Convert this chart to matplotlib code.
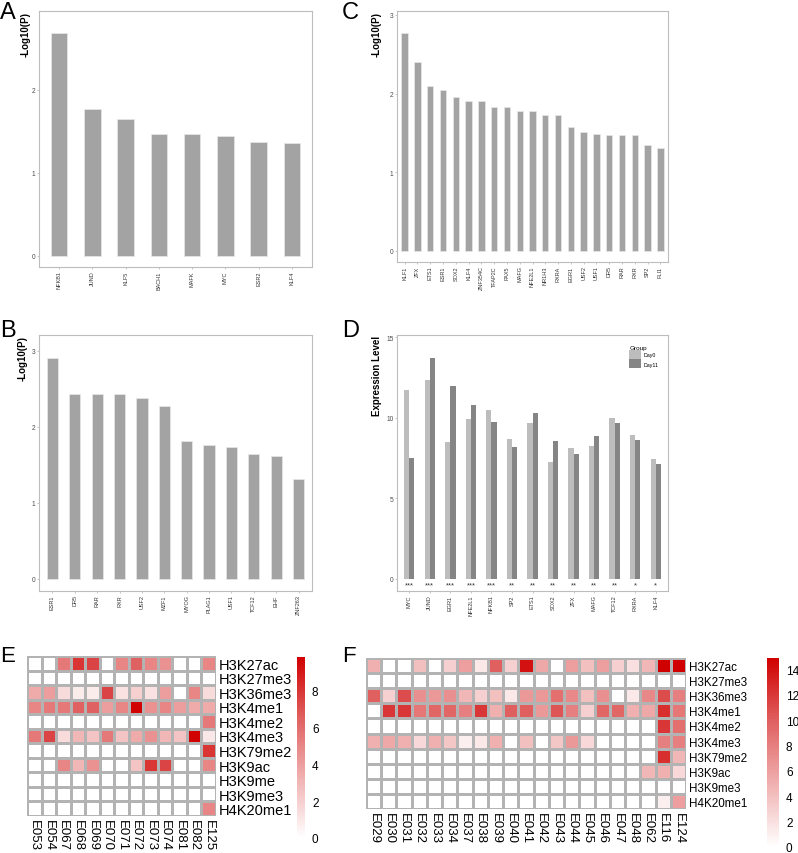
import numpy as np
import matplotlib
matplotlib.use("Agg")
import matplotlib.pyplot as plt
from matplotlib.colors import LinearSegmentedColormap

plt.rcParams["font.family"] = ["Liberation Sans", "DejaVu Sans"]

W, H = 798, 854

# --- data ---
a_tf = ["NFKB1", "JUND", "KLF5", "BACH1", "MAFK", "MYC", "ESR2", "KLF4"]
a_val = [2.69, 1.77, 1.65, 1.47, 1.47, 1.45, 1.37, 1.36]

b_tf = ["ESR1", "DR5", "RAR", "RXR", "USF2", "MZF1", "MYOG", "PLAG1", "USF1", "TCF12", "EHF", "ZNF263"]
b_val = [2.91, 2.44, 2.44, 2.44, 2.38, 2.27, 1.82, 1.76, 1.73, 1.64, 1.62, 1.32]

c_tf = ["KLF1", "ZFX", "ETS1", "ESR1", "SOX2", "KLF4", "ZNF354C", "TFAP2C", "PAX5", "MAFG",
        "NFE2L1", "NR1H3", "RXRA", "EGR1", "USF2", "USF1", "DR5", "RAR", "RXR", "SP2", "FLI1"]
c_val = [2.77, 2.40, 2.09, 2.04, 1.95, 1.91, 1.90, 1.83, 1.83, 1.78,
         1.78, 1.73, 1.73, 1.58, 1.51, 1.49, 1.47, 1.47, 1.47, 1.35, 1.31]

d_tf = ["MYC", "JUND", "EGR1", "NFE2L1", "NFKB1", "SP2", "ETS1", "SOX2", "ZFX", "MAFG", "TCF12", "RXRA", "KLF4"]
d_day0 = [11.76, 12.36, 8.49, 9.94, 10.48, 8.71, 9.69, 7.25, 8.14, 8.28, 10.02, 8.94, 7.43]
d_day11 = [7.52, 13.75, 11.99, 10.81, 9.77, 8.20, 10.31, 8.59, 7.74, 8.86, 9.67, 8.61, 7.14]
d_sig = ["***", "***", "***", "***", "***", "**", "**", "**", "**", "**", "**", "*", "*"]

e_cols = ["E053", "E054", "E067", "E068", "E069", "E070", "E071", "E072", "E073", "E074", "E081", "E082", "E125"]
e_rows = ["H3K27ac", "H3K27me3", "H3K36me3", "H3K4me1", "H3K4me2", "H3K4me3",
          "H3K79me2", "H3K9ac", "H3K9me", "H3K9me3", "H4K20me1"]
e_vals = [
    [0, 0, 5.5, 8, 7.5, 0, 5, 6.5, 5, 4.5, 0, 0, 5],
    [0, 0, 0, 0, 0, 0, 0, 0, 0, 0, 0, 0, 0],
    [3.5, 4, 1.5, 0.8, 0.8, 7.5, 1.2, 2, 1.2, 4, 0, 5, 1.5],
    [5, 5.5, 5.5, 6.5, 6.5, 4, 5, 9.7, 4.5, 5, 4, 3.5, 3.5],
    [0, 0, 0, 0, 0, 0, 0, 0, 0, 0, 0, 0, 5.5],
    [5.5, 7.5, 1.5, 3, 2.5, 5.5, 2.5, 3.5, 4.5, 3, 2.5, 9.7, 1],
    [0, 0, 0, 0, 0, 0, 0, 0, 0, 0, 0, 0, 8],
    [0, 0, 5, 3, 4.5, 0, 0, 2.5, 8, 7.5, 0, 0, 5],
    [0, 0, 0, 0, 0, 0, 0, 0, 0, 0, 0, 0, 0],
    [0, 0, 0, 0, 0, 0, 0, 0, 0, 0, 0, 0, 0],
    [0, 0, 0, 0, 0, 0, 0, 0, 0, 0, 0, 0, 5],
]

f_cols = ["E029", "E030", "E031", "E032", "E033", "E034", "E037", "E038", "E039", "E040", "E041",
          "E042", "E043", "E044", "E045", "E046", "E047", "E048", "E062", "E116", "E124"]
f_rows = ["H3K27ac", "H3K27me3", "H3K36me3", "H3K4me1", "H3K4me2", "H3K4me3",
          "H3K79me2", "H3K9ac", "H3K9me3", "H4K20me1"]
f_vals = [
    [5, 0, 0, 4, 0, 3, 6, 1.5, 10, 3, 14, 5.5, 0, 6, 4, 6, 3, 2, 4.5, 15, 15],
    [0] * 21,
    [10, 3, 11, 7, 6.5, 7, 4.5, 3, 4, 1.5, 6.5, 6.5, 9, 7.5, 4, 7, 0, 1.5, 7.5, 11, 8],
    [0, 12, 12, 8.5, 9.5, 9.5, 8, 12, 5, 10, 10, 6.5, 10.5, 8, 3, 9.5, 9.5, 5, 5.5, 12.5, 8.5],
    [0] * 19 + [12, 9],
    [5, 5.5, 5, 2.5, 5, 3.5, 1, 1.5, 5, 0, 4, 0, 3.5, 6.5, 2.5, 0, 0, 0, 0, 8, 8],
    [0] * 19 + [12.5, 4.5],
    [0] * 18 + [4.5, 5, 2.5],
    [0] * 21,
    [0] * 19 + [1, 6],
]


def box(x0, y0, x1, y1):
    return [x0 / W, 1 - y1 / H, (x1 - x0) / W, (y1 - y0) / H]


fig = plt.figure(figsize=(W / 100, H / 100), dpi=100)

bar_grey = "#A3A3A3"
spine_col = "#BDBDBD"
tick_col = "#4D4D4D"


def style_bar_axes(ax, ylabel, lab_x):
    for s in ax.spines.values():
        s.set_color(spine_col)
        s.set_linewidth(0.8)
    ax.tick_params(axis="both", colors=spine_col, length=1.5, width=0.6,
                   labelcolor=tick_col, labelsize=4.8, pad=1)
    ax.tick_params(axis="x", labelsize=4.0, labelcolor="#333333")
    ax.set_ylabel(ylabel, fontsize=7, fontweight="bold", loc="top")
    ax.yaxis.set_label_coords(lab_x, 1.0)


def pval_bars(rect, names, vals, ylim, yticks, lab_x):
    ax = fig.add_axes(rect)
    x = np.arange(len(names))
    ax.bar(x, vals, width=0.5, color=bar_grey, edgecolor="#E8E8E8", linewidth=0.5)
    ax.set_xlim(-0.6, len(names) - 0.4)
    ax.set_ylim(*ylim)
    ax.set_yticks(yticks)
    ax.set_xticks(x)
    ax.set_xticklabels(names, rotation=90)
    style_bar_axes(ax, "-Log10(P)", lab_x)
    return ax


pval_bars(box(39, 12, 312, 268), a_tf, a_val, (-0.133, 2.95), [0, 1, 2], -0.031)
pval_bars(box(397, 12, 668, 263), c_tf, c_val, (-0.144, 3.05), [0, 1, 2, 3], -0.057)
pval_bars(box(39, 336, 312, 592), b_tf, b_val, (-0.158, 3.21), [0, 1, 2, 3], -0.04)

# --- panel D ---
axd = fig.add_axes(box(397, 336, 668, 592))
xd = np.arange(len(d_tf))
axd.bar(xd - 0.125, d_day0, width=0.25, color="#BDBDBD", label="Day0")
axd.bar(xd + 0.125, d_day11, width=0.25, color="#858585", label="Day11")
for i, s in enumerate(d_sig):
    axd.text(xd[i], -0.4, s, ha="center", va="center", fontsize=5.5, color="#333333")
axd.set_xlim(-0.6, len(d_tf) - 0.4)
axd.set_ylim(-0.75, 15.15)
axd.set_yticks([0, 5, 10, 15])
axd.set_xticks(xd)
axd.set_xticklabels(d_tf, rotation=90)
style_bar_axes(axd, "Expression Level", -0.057)
leg = axd.legend(title="Group", loc="upper left", bbox_to_anchor=(0.845, 0.975), frameon=False,
                 fontsize=3.8, title_fontsize=4.6, handlelength=2.3, handleheight=2.3,
                 handletextpad=0.4, labelspacing=0.05, borderpad=0.1)
leg._legend_box.align = "left"

# --- heatmaps ---
cmap = LinearSegmentedColormap.from_list("wr", ["#FFFFFF", "#F0B0B0", "#E06060", "#D00000"])


def heatmap(rect, cbar_rect, vals, rows, cols, vmax, row_fs, cticks):
    ax = fig.add_axes(rect)
    m = ax.pcolormesh(np.array(vals), cmap=cmap, vmin=0, vmax=vmax,
                      edgecolors="#B3B3B3", linewidth=0.9)
    ax.set_xlim(0, len(cols))
    ax.set_ylim(len(rows), 0)
    for s in ax.spines.values():
        s.set_visible(False)
    ax.yaxis.tick_right()
    ax.set_yticks(np.arange(len(rows)) + 0.5)
    ax.set_yticklabels(rows, fontsize=row_fs)
    ax.set_xticks(np.arange(len(cols)) + 0.5)
    ax.set_xticklabels(cols, rotation=270, fontsize=9.5)
    ax.tick_params(length=0, pad=2)
    cax = fig.add_axes(cbar_rect)
    cb = fig.colorbar(m, cax=cax)
    cb.outline.set_visible(False)
    cb.set_ticks(cticks)
    cax.tick_params(length=0, labelsize=8.5, pad=5)
    return ax


heatmap(box(27, 657, 216, 817), box(297, 658, 305, 839), e_vals, e_rows, e_cols, 9.8, 10.5,
        [0, 2, 4, 6, 8])
heatmap(box(366, 659, 686, 810), box(767, 659, 779, 848), f_vals, f_rows, f_cols, 14.9, 8.4,
        [0, 2, 4, 6, 8, 10, 12, 14])

# --- panel letters ---
for lab, px, py, fs in [("A", 0, 2, 17), ("C", 342, 2, 17), ("B", 0, 320, 17), ("D", 342, 320, 17),
                        ("E", 0, 646, 16), ("F", 342, 646, 16)]:
    fig.text(px / W, 1 - py / H, lab, fontsize=fs, ha="left", va="top")

fig.savefig("out.png", dpi=100)
